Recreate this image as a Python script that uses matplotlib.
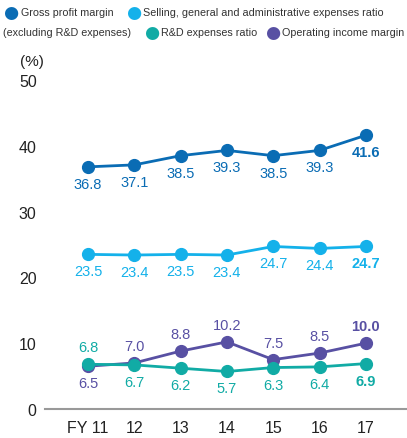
import matplotlib
matplotlib.use("Agg")
import matplotlib.pyplot as plt

plt.rcParams['font.family'] = ['Liberation Sans', 'DejaVu Sans']

years = ["FY 11", "12", "13", "14", "15", "16", "17"]
gross = [36.8, 37.1, 38.5, 39.3, 38.5, 39.3, 41.6]
sga = [23.5, 23.4, 23.5, 23.4, 24.7, 24.4, 24.7]
rnd = [6.8, 6.7, 6.2, 5.7, 6.3, 6.4, 6.9]
opinc = [6.5, 7.0, 8.8, 10.2, 7.5, 8.5, 10.0]

c_gross = "#0a6cb4"
c_sga = "#14b1ea"
c_rnd = "#11aba5"
c_op = "#5850a3"

fig = plt.figure(figsize=(4.07, 4.39), dpi=100)
ax = fig.add_axes([45/407, 29/439, 362/407, 329/439])
x = list(range(len(years)))

def plot_series(vals, color, pos, z):
    ax.plot(x, vals, color=color, lw=2.0, marker='o', ms=8.5, zorder=z, clip_on=False)
    for i, v in enumerate(vals):
        p = pos[i] if isinstance(pos, list) else pos
        off = 17 if p == 'above' else -17
        ax.annotate(f"{v:.1f}", (i, v), xytext=(0, off), textcoords='offset pixels',
                    ha='center', va='center', fontsize=10.5, color=color,
                    fontweight='bold' if i == len(vals) - 1 else 'normal')

plot_series(gross, c_gross, 'below', 3)
plot_series(sga, c_sga, 'below', 3)
plot_series(opinc, c_op, ['below'] + ['above'] * 6, 3)
plot_series(rnd, c_rnd, ['above'] + ['below'] * 6, 4)

ax.set_xlim(-0.93, 6.89)
ax.set_ylim(0, 50)
for s in ['top', 'right', 'left']:
    ax.spines[s].set_visible(False)
ax.spines['bottom'].set_color('#999999')
ax.spines['bottom'].set_linewidth(1.5)
ax.set_yticks([0, 10, 20, 30, 40, 50])
ax.set_xticks(x)
ax.set_xticklabels(years)
ax.tick_params(axis='both', length=0, labelsize=11.5, colors='#222222')
ax.tick_params(axis='y', pad=6)
ax.tick_params(axis='x', pad=8)
fig.text(20/407, 1 - 62/439, "(%)", fontsize=11, color='#222222', va='center', ha='left')

# legend
LFS = 7.75
def leg(mx, tx, yp, color, text):
    fig.text(mx/407, 1 - yp/439, "\u25CF", color=color, fontsize=12.5, va='center', ha='center',
             family='DejaVu Sans')
    fig.text(tx/407, 1 - yp/439, text, color='#333333', fontsize=LFS, va='center', ha='left')

leg(11, 21, 13, c_gross, "Gross profit margin")
leg(134, 143, 13, c_sga, "Selling, general and administrative expenses ratio")
fig.text(3/407, 1 - 33/439, "(excluding R&D expenses)", color='#333333', fontsize=LFS, va='center', ha='left')
leg(152, 161, 33, c_rnd, "R&D expenses ratio")
leg(273, 282, 33, c_op, "Operating income margin")

fig.savefig("out.png", dpi=100)
